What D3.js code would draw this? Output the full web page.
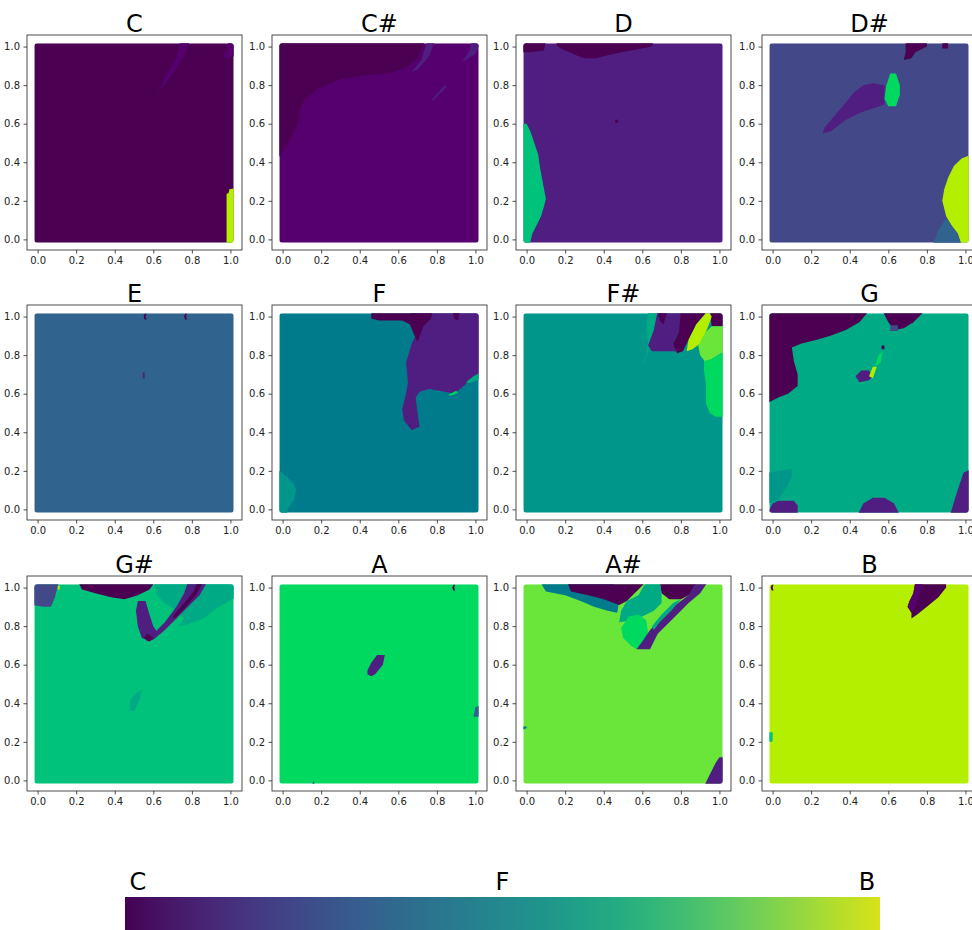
<!DOCTYPE html>
<html>
<head>
  <meta charset="utf-8">
  <script src="https://d3js.org/d3.v7.min.js"></script>
  <style>
    body { margin: 0; background: #fff; }
    text { font-family: "DejaVu Sans", sans-serif; }
  </style>
</head>
<body>
<script>
// note names and the colour of each note
var notes = ["C", "C#", "D", "D#", "E", "F", "F#", "G", "G#", "A", "A#", "B"];
var noteColors = ["#4b0052", "#560070", "#501d80", "#434888", "#30638d", "#007b8c",
                  "#00968a", "#00aa85", "#00c27b", "#00d960", "#6ae63b", "#b5ef00"];
// background note of each panel
var panelBase = [0, 1, 2, 3, 4, 5, 6, 7, 8, 9, 10, 11];
var ticks = [0, 0.2, 0.4, 0.6, 0.8, 1.0];
var cbarLabels = ["C", "F", "B"];

// regions of other notes inside each panel: [note index, polygon in data coords]
var regionsC = [
  [11, [[0.98,-0.03],[0.98,0.235],[0.99,0.24],[0.995,0.26],[1.03,0.265],[1.03,-0.03]]],
  [1, [[0.62,0.75],[0.66,0.84],[0.72,0.94],[0.74,1.03],[0.79,1.03],[0.76,0.95],[0.70,0.86],[0.64,0.78]]],
  [1, [[0.96,0.94],[0.98,0.98],[0.99,1.03],[1.03,1.03],[1.03,0.95]]]
];
var regionsCs = [
  [0, [[-0.03,0.41],[0.03,0.5],[0.08,0.6],[0.09,0.67],[0.11,0.72],[0.18,0.78],[0.3,0.83],[0.42,0.85],[0.55,0.86],[0.64,0.89],[0.7,0.94],[0.74,1.03],[-0.03,1.03]]],
  [2, [[0.67,0.87],[0.72,0.93],[0.75,1.03],[0.79,1.03],[0.76,0.95],[0.7,0.88]]],
  [2, [[0.93,0.92],[0.97,0.98],[0.98,1.03],[1.03,1.03],[1.0,0.96]]],
  [2, [[0.77,0.72],[0.84,0.8],[0.85,0.79],[0.78,0.72]]]
];
var regionsD = [
  [0, [[-0.03,1.03],[-0.03,0.97],[0.02,0.97],[0.09,0.98],[0.1,1.03]]],
  [0, [[0.15,1.03],[0.16,1.0],[0.2,0.98],[0.27,0.95],[0.3,0.94],[0.36,0.94],[0.44,0.96],[0.54,0.98],[0.65,1.0],[0.66,1.03]]],
  [8, [[-0.03,-0.03],[-0.03,0.6],[0.0,0.6],[0.02,0.56],[0.04,0.5],[0.06,0.44],[0.07,0.37],[0.085,0.29],[0.1,0.21],[0.09,0.17],[0.075,0.12],[0.05,0.07],[0.03,0.03],[0.015,-0.03]]],
  [0, [[0.46,0.605],[0.475,0.605],[0.475,0.62],[0.46,0.62]]]
];
var regionsDs = [
  [0, [[0.68,0.93],[0.72,0.94],[0.74,0.97],[0.8,1.0],[0.8,1.03],[0.69,1.03],[0.69,0.97]]],
  [0, [[0.88,0.99],[0.91,0.99],[0.91,1.03],[0.88,1.03]]],
  [2, [[0.26,0.55],[0.3,0.56],[0.38,0.62],[0.46,0.66],[0.58,0.7],[0.58,0.8],[0.52,0.81],[0.47,0.8],[0.42,0.76],[0.38,0.71],[0.32,0.64],[0.27,0.58]]],
  [9, [[0.6,0.69],[0.64,0.69],[0.66,0.75],[0.66,0.8],[0.64,0.86],[0.61,0.86],[0.59,0.8],[0.58,0.73]]],
  [11, [[1.03,0.44],[0.98,0.42],[0.94,0.38],[0.91,0.32],[0.89,0.26],[0.88,0.2],[0.9,0.12],[0.93,0.07],[0.96,0.03],[0.98,-0.03],[1.03,-0.03]]],
  [4, [[0.83,-0.03],[0.86,0.05],[0.9,0.11],[0.93,0.07],[0.96,0.03],[0.98,-0.03]]]
];
var regionsE = [
  [0, [[0.555,0.985],[0.565,0.985],[0.56,1.0],[0.565,1.015],[0.555,1.015],[0.55,1.0]]],
  [0, [[0.765,0.985],[0.775,0.985],[0.77,1.0],[0.775,1.015],[0.765,1.015],[0.76,1.0]]],
  [2, [[0.545,0.68],[0.555,0.68],[0.555,0.71],[0.545,0.71]]]
];
var regionsF = [
  [2, [[0.66,1.03],[0.7,0.92],[0.67,0.86],[0.64,0.76],[0.65,0.66],[0.64,0.6],[0.62,0.52],[0.63,0.46],[0.67,0.41],[0.71,0.43],[0.7,0.5],[0.69,0.58],[0.71,0.61],[0.76,0.625],[0.84,0.61],[0.89,0.6],[0.94,0.64],[0.99,0.69],[1.03,0.71],[1.03,1.03]]],
  [0, [[0.46,1.03],[0.46,0.99],[0.5,0.98],[0.62,0.98],[0.66,0.96],[0.68,0.91],[0.7,0.87],[0.73,0.95],[0.77,0.99],[0.78,1.03]]],
  [0, [[0.88,1.03],[0.89,0.99],[0.91,0.98],[0.92,1.03]]],
  [9, [[0.86,0.595],[0.9,0.615],[0.91,0.605],[0.87,0.59]]],
  [7, [[0.95,0.66],[0.99,0.69],[1.03,0.71],[1.03,0.68],[0.97,0.655]]],
  [6, [[-0.03,0.21],[0.02,0.17],[0.06,0.13],[0.07,0.1],[0.06,0.05],[0.03,0.01],[0.02,-0.03],[-0.03,-0.03]]]
];
var regionsFs = [
  [7, [[0.6,0.75],[0.62,0.8],[0.63,0.86],[0.62,0.93],[0.63,1.03],[0.68,1.03],[0.66,0.93],[0.64,0.85],[0.61,0.76]]],
  [2, [[0.63,0.85],[0.65,0.82],[0.7,0.82],[0.78,0.82],[0.76,0.86],[0.79,0.92],[0.8,0.98],[0.8,1.03],[0.68,1.03],[0.66,0.93]]],
  [0, [[0.68,1.03],[0.69,0.98],[0.71,0.96],[0.73,1.03]]],
  [0, [[0.8,1.03],[0.79,0.92],[0.76,0.86],[0.78,0.81],[0.81,0.82],[0.84,0.88],[0.88,0.96],[0.94,1.03]]],
  [0, [[0.95,1.03],[0.96,0.95],[1.03,0.95],[1.03,1.03]]],
  [11, [[0.83,0.82],[0.86,0.83],[0.9,0.86],[0.93,0.92],[0.95,0.97],[0.96,1.0],[0.94,1.03],[0.88,0.96],[0.84,0.88]]],
  [10, [[0.89,0.85],[0.93,0.92],[0.96,0.95],[1.03,0.95],[1.03,0.82],[0.99,0.8],[0.96,0.78],[0.93,0.76],[0.9,0.8]]],
  [9, [[0.92,0.77],[0.96,0.78],[0.99,0.8],[1.03,0.82],[1.03,0.48],[0.98,0.48],[0.95,0.5],[0.93,0.55],[0.93,0.65],[0.92,0.72]]]
];
var regionsG = [
  [0, [[-0.03,1.03],[-0.03,0.55],[0.03,0.58],[0.08,0.6],[0.13,0.64],[0.13,0.7],[0.11,0.77],[0.1,0.84],[0.15,0.86],[0.23,0.88],[0.3,0.9],[0.38,0.93],[0.45,0.97],[0.5,1.03]]],
  [0, [[0.57,1.03],[0.6,0.97],[0.63,0.93],[0.68,0.94],[0.73,0.97],[0.79,1.03]]],
  [3, [[0.61,0.925],[0.65,0.925],[0.65,0.955],[0.61,0.955]]],
  [2, [[0.43,0.69],[0.46,0.72],[0.5,0.72],[0.52,0.69],[0.5,0.67],[0.45,0.66]]],
  [11, [[0.5,0.69],[0.52,0.74],[0.54,0.74],[0.52,0.68]]],
  [9, [[0.53,0.74],[0.55,0.8],[0.57,0.82],[0.56,0.76]]],
  [0, [[0.565,0.83],[0.58,0.83],[0.58,0.85],[0.565,0.85]]],
  [6, [[-0.03,0.19],[0.04,0.2],[0.1,0.21],[0.1,0.17],[0.07,0.11],[0.03,0.05],[-0.03,0.03]]],
  [2, [[-0.03,-0.03],[0.0,0.03],[0.03,0.045],[0.11,0.045],[0.13,0.02],[0.13,-0.03]]],
  [2, [[0.44,-0.03],[0.47,0.03],[0.52,0.06],[0.58,0.06],[0.63,0.03],[0.66,-0.03]]],
  [2, [[0.92,-0.03],[0.95,0.07],[0.97,0.13],[0.99,0.19],[1.03,0.21],[1.03,-0.03]]]
];
var regionsGs = [
  [3, [[-0.03,1.03],[-0.03,0.91],[0.03,0.9],[0.07,0.9],[0.09,0.95],[0.11,1.03]]],
  [11, [[0.105,0.99],[0.115,0.99],[0.115,1.01],[0.105,1.01]]],
  [0, [[0.21,1.03],[0.23,0.99],[0.3,0.97],[0.38,0.95],[0.45,0.94],[0.52,0.96],[0.58,0.99],[0.61,1.03]]],
  [7, [[0.6,1.03],[0.62,0.96],[0.66,0.92],[0.72,0.88],[0.76,0.84],[0.73,0.8],[0.78,0.81],[0.86,0.84],[0.94,0.9],[1.03,0.95],[1.03,1.03]]],
  [2, [[0.56,0.72],[0.6,0.76],[0.66,0.82],[0.72,0.9],[0.76,0.97],[0.78,1.03],[0.88,1.03],[0.84,0.96],[0.78,0.9],[0.72,0.84],[0.66,0.78],[0.6,0.73]]],
  [2, [[0.51,0.88],[0.52,0.93],[0.56,0.93],[0.58,0.86],[0.6,0.8],[0.62,0.77],[0.58,0.72],[0.54,0.74],[0.52,0.8]]],
  [0, [[0.7,0.85],[0.76,0.92],[0.81,0.98],[0.83,1.03],[0.86,1.03],[0.82,0.96],[0.76,0.89],[0.71,0.84]]],
  [0, [[0.55,0.74],[0.57,0.76],[0.6,0.74],[0.58,0.72]]],
  [7, [[0.48,0.36],[0.48,0.42],[0.52,0.46],[0.54,0.47],[0.53,0.42],[0.5,0.36]]]
];
var regionsA = [
  [2, [[0.44,0.55],[0.46,0.54],[0.48,0.55],[0.52,0.6],[0.53,0.65],[0.49,0.65],[0.46,0.61],[0.44,0.57]]],
  [0, [[0.885,0.985],[0.895,0.985],[0.89,1.0],[0.895,1.015],[0.885,1.015],[0.88,1.0]]],
  [4, [[0.99,0.33],[1.03,0.33],[1.03,0.39],[1.0,0.38]]],
  [4, [[0.15,-0.03],[0.17,-0.03],[0.16,0.0]]]
];
var regionsAs = [
  [5, [[0.07,1.03],[0.1,0.98],[0.2,0.96],[0.28,0.93],[0.35,0.9],[0.42,0.88],[0.47,0.87],[0.48,0.93],[0.45,1.03]]],
  [0, [[0.21,1.03],[0.23,0.98],[0.32,0.96],[0.4,0.94],[0.48,0.91],[0.52,0.93],[0.56,0.97],[0.62,1.03]]],
  [0, [[0.69,1.03],[0.7,0.97],[0.74,0.94],[0.8,0.94],[0.86,0.97],[0.88,1.03]]],
  [7, [[0.48,0.82],[0.49,0.88],[0.52,0.93],[0.58,0.96],[0.62,1.03],[0.69,1.03],[0.7,0.97],[0.7,0.92],[0.66,0.88],[0.6,0.85],[0.55,0.83]]],
  [9, [[0.49,0.79],[0.5,0.74],[0.54,0.7],[0.57,0.68],[0.61,0.7],[0.63,0.77],[0.62,0.83],[0.58,0.86],[0.53,0.85]]],
  [2, [[0.57,0.68],[0.64,0.68],[0.68,0.76],[0.76,0.84],[0.84,0.92],[0.9,0.97],[0.94,1.03],[0.88,1.03],[0.84,0.96],[0.76,0.9],[0.7,0.84],[0.64,0.78],[0.6,0.72]]],
  [7, [[0.65,0.8],[0.7,0.86],[0.76,0.92],[0.8,0.94],[0.75,0.88],[0.69,0.82],[0.66,0.78]]],
  [2, [[0.92,-0.03],[0.95,0.03],[0.98,0.09],[1.0,0.12],[1.03,0.12],[1.03,-0.03]]],
  [5, [[-0.03,0.26],[0.0,0.27],[0.0,0.28],[-0.03,0.28]]]
];
var regionsB = [
  [0, [[0.74,1.03],[0.73,0.97],[0.71,0.93],[0.7,0.9],[0.72,0.87],[0.72,0.84],[0.75,0.86],[0.8,0.9],[0.86,0.95],[0.9,1.0],[0.9,1.03]]],
  [1, [[0.74,1.03],[0.73,0.97],[0.71,0.93],[0.7,0.9],[0.72,0.87],[0.74,0.9],[0.76,0.96],[0.78,1.03]]],
  [0, [[-0.005,0.985],[0.005,0.985],[0.0,1.0],[0.005,1.015],[-0.005,1.015],[-0.01,1.0]]],
  [8, [[-0.03,0.2],[0.0,0.2],[0.0,0.25],[-0.03,0.25]]]
];
var panelRegions = [regionsC, regionsCs, regionsD, regionsDs, regionsE, regionsF,
                    regionsFs, regionsG, regionsGs, regionsA, regionsAs, regionsB];

var width = 972, height = 930;
var colLeft = [27, 272, 516, 762];
var rowTop = [35, 305, 576];
var size = 215;
var pad = 0.017;   // half a marker beyond the unit square

var svg = d3.select("body").append("svg")
  .attr("width", width)
  .attr("height", height);

var x = d3.scaleLinear().domain([-0.055, 1.06]).range([0, size]);
var y = d3.scaleLinear().domain([-0.055, 1.06]).range([size, 0]);

var line = d3.line()
  .x(function(d) { return x(d[0]); })
  .y(function(d) { return y(d[1]); })
  .curve(d3.curveLinearClosed);

notes.forEach(function(note, i) {
  var g = svg.append("g")
    .attr("transform", "translate(" + colLeft[i % 4] + "," + rowTop[Math.floor(i / 4)] + ")");

  // clip everything to the grid square
  g.append("clipPath").attr("id", "clip" + i)
    .append("rect")
    .attr("x", x(-pad)).attr("y", y(1 + pad))
    .attr("width", x(1 + pad) - x(-pad))
    .attr("height", y(-pad) - y(1 + pad))
    .attr("rx", 3);

  var plot = g.append("g").attr("clip-path", "url(#clip" + i + ")");
  plot.append("rect")
    .attr("x", x(-pad)).attr("y", y(1 + pad))
    .attr("width", x(1 + pad) - x(-pad))
    .attr("height", y(-pad) - y(1 + pad))
    .attr("fill", noteColors[panelBase[i]]);

  plot.selectAll("path.region")
    .data(panelRegions[i])
    .enter()
    .append("path")
    .attr("class", "region")
    .attr("d", function(d) { return line(d[1]); })
    .attr("fill", function(d) { return noteColors[d[0]]; });

  // axes
  var xAxis = d3.axisBottom(x).tickValues(ticks).tickFormat(d3.format(".1f")).tickSize(3.5).tickPadding(3.5);
  var yAxis = d3.axisLeft(y).tickValues(ticks).tickFormat(d3.format(".1f")).tickSize(3.5).tickPadding(3.5);
  var gx = g.append("g").attr("transform", "translate(0," + size + ")").call(xAxis);
  var gy = g.append("g").call(yAxis);
  [gx, gy].forEach(function(a) {
    a.select(".domain").remove();
    a.selectAll("line").attr("stroke", "#222").attr("stroke-width", 0.8);
    a.selectAll("text").attr("fill", "#222").style("font-size", "10px")
      .style("font-family", "DejaVu Sans, sans-serif");
  });

  g.append("rect")
    .attr("width", size).attr("height", size)
    .attr("fill", "none")
    .attr("stroke", "#222")
    .attr("stroke-width", 0.8);

  g.append("text")
    .attr("x", size / 2)
    .attr("y", -3)
    .attr("text-anchor", "middle")
    .style("font-size", "24px")
    .text(note);
});

// colour bar
var cbLeft = 125, cbRight = 880, cbTop = 897;
var grad = svg.append("defs").append("linearGradient").attr("id", "cbar");
d3.range(0, 1.0001, 0.05).forEach(function(t) {
  grad.append("stop")
    .attr("offset", t)
    .attr("stop-color", d3.interpolateViridis(t * 0.94));
});
svg.append("rect")
  .attr("x", cbLeft).attr("y", cbTop)
  .attr("width", cbRight - cbLeft).attr("height", height - cbTop)
  .attr("fill", "url(#cbar)");

var cbx = d3.scalePoint().domain(cbarLabels).range([cbLeft + 13, cbRight - 13]);
svg.selectAll("text.cb")
  .data(cbarLabels)
  .enter()
  .append("text")
  .attr("class", "cb")
  .attr("x", function(d) { return cbx(d); })
  .attr("y", 890)
  .attr("text-anchor", "middle")
  .style("font-size", "24px")
  .text(function(d) { return d; });
</script>
</body>
</html>
